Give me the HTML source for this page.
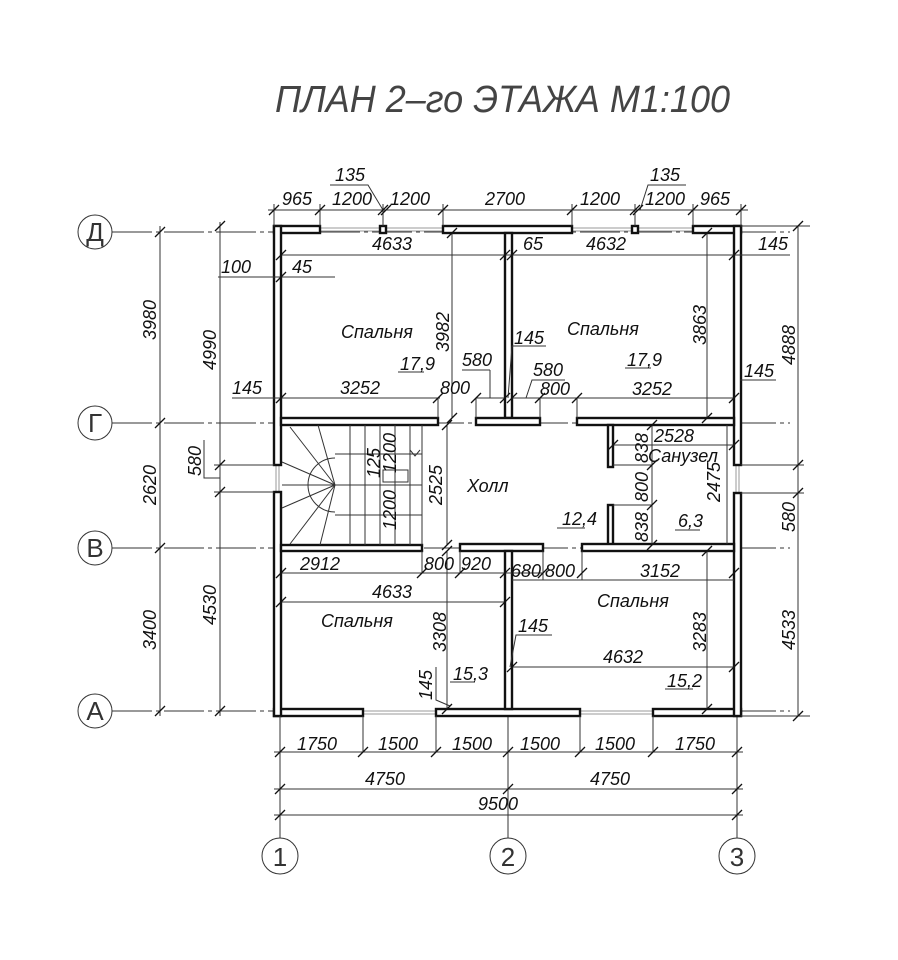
<!DOCTYPE html>
<html><head><meta charset="utf-8"><style>
html,body{margin:0;padding:0;background:#fff;}
svg{display:block;}
text{font-family:"Liberation Sans",sans-serif;font-style:italic;fill:#111;}
.t{font-size:18px;}
.w{fill:#fff;stroke:#111;stroke-width:2.4;}
.th{stroke:#333;stroke-width:1;fill:none;}
.tk{stroke:#111;stroke-width:1.3;}
.win{stroke:#999;stroke-width:1;}
</style></head><body>
<svg width="898" height="960" viewBox="0 0 898 960" xmlns="http://www.w3.org/2000/svg">
<text x="275" y="112" style="font-size:38px;fill:#444;" textLength="455" lengthAdjust="spacingAndGlyphs">ПЛАН 2–го ЭТАЖА М1:100</text>

<g class="th" stroke-dasharray="40 4 4 4">
<line x1="112" y1="232" x2="790" y2="232"/>
<line x1="112" y1="423" x2="790" y2="423"/>
<line x1="112" y1="548" x2="790" y2="548"/>
<line x1="112" y1="711" x2="790" y2="711"/>
</g>
<g class="th">
<line x1="280" y1="716" x2="280" y2="838"/>
<line x1="508" y1="716" x2="508" y2="838"/>
<line x1="737" y1="716" x2="737" y2="838"/>
<circle cx="95" cy="232" r="17"/><circle cx="95" cy="423" r="17"/><circle cx="95" cy="548" r="17"/><circle cx="95" cy="711" r="17"/>
<circle cx="280" cy="856" r="18"/><circle cx="508" cy="856" r="18"/><circle cx="737" cy="856" r="18"/>
</g>
<g style="font-size:26px;" text-anchor="middle">
<text x="95" y="241" style="font-style:normal;fill:#333">Д</text><text x="95" y="432" style="font-style:normal;fill:#333">Г</text>
<text x="95" y="557" style="font-style:normal;fill:#333">В</text><text x="95" y="720" style="font-style:normal;fill:#333">А</text>
<text x="280" y="866" style="font-style:normal;fill:#333">1</text><text x="508" y="866" style="font-style:normal;fill:#333">2</text><text x="737" y="866" style="font-style:normal;fill:#333">3</text>
</g>

<g class="win">
<line x1="320" y1="228" x2="443" y2="228"/><line x1="320" y1="231" x2="443" y2="231"/>
<line x1="572" y1="228" x2="693" y2="228"/><line x1="572" y1="231" x2="693" y2="231"/>
<line x1="363" y1="711" x2="436" y2="711"/><line x1="363" y1="714" x2="436" y2="714"/>
<line x1="580" y1="711" x2="653" y2="711"/><line x1="580" y1="714" x2="653" y2="714"/>
<line x1="276" y1="465" x2="276" y2="492"/><line x1="279" y1="465" x2="279" y2="492"/>
<line x1="736" y1="465" x2="736" y2="493"/><line x1="739" y1="465" x2="739" y2="493"/>
</g>

<g class="w">
<rect x="274" y="226" width="46" height="7"/>
<rect x="380" y="226" width="6" height="7"/>
<rect x="443" y="226" width="129" height="7"/>
<rect x="632" y="226" width="6" height="7"/>
<rect x="693" y="226" width="48" height="7"/>
<rect x="274" y="709" width="89" height="7"/>
<rect x="436" y="709" width="144" height="7"/>
<rect x="653" y="709" width="88" height="7"/>
<rect x="274" y="226" width="7" height="239"/>
<rect x="274" y="492" width="7" height="224"/>
<rect x="734" y="226" width="7" height="239"/>
<rect x="734" y="493" width="7" height="223"/>
<rect x="505" y="233" width="7" height="185"/>
<rect x="281" y="418" width="157" height="7"/>
<rect x="476" y="418" width="64" height="7"/>
<rect x="577" y="418" width="157" height="7"/>
<rect x="608" y="425" width="5" height="42"/>
<rect x="608" y="505" width="5" height="40"/>
<rect x="582" y="544" width="152" height="7"/>
<rect x="281" y="545" width="141" height="6"/>
<rect x="460" y="544" width="83" height="7"/>
<rect x="505" y="551" width="7" height="158"/>
</g>
<g fill="#fff">
<rect x="276" y="228" width="3" height="3"/><rect x="736" y="228" width="3" height="3"/>
<rect x="276" y="711" width="3" height="3"/><rect x="736" y="711" width="3" height="3"/>
</g>

<g class="th">
<path d="M335 458 A27 27 0 0 0 335 512"/>
<line x1="282" y1="485" x2="422" y2="485"/>
<line x1="335" y1="454" x2="422" y2="454"/>
<line x1="335" y1="515" x2="422" y2="515"/>
<line x1="335" y1="485" x2="290" y2="427"/><line x1="335" y1="485" x2="282" y2="462"/>
<line x1="335" y1="485" x2="318" y2="425"/><line x1="335" y1="485" x2="282" y2="508"/>
<line x1="335" y1="485" x2="290" y2="544"/><line x1="335" y1="485" x2="320" y2="545"/>
<line x1="350" y1="425" x2="350" y2="545"/><line x1="365" y1="425" x2="365" y2="545"/>
<line x1="380" y1="425" x2="380" y2="545"/><line x1="395" y1="425" x2="395" y2="545"/>
<line x1="410" y1="425" x2="410" y2="545"/><line x1="422" y1="425" x2="422" y2="545"/>
<path d="M410 450 l5 6 l5 -6"/>
<rect x="383" y="470" width="25" height="12"/>
<line x1="727" y1="425" x2="727" y2="544"/>
<line x1="613" y1="465" x2="652" y2="465"/><line x1="613" y1="505" x2="652" y2="505"/>
<line x1="652" y1="425" x2="652" y2="544"/>
<line x1="613" y1="445" x2="734" y2="445"/>
</g>

<g class="th">
<line x1="268" y1="210" x2="748" y2="210"/>
<line x1="274" y1="204" x2="274" y2="226"/><line x1="320" y1="204" x2="320" y2="226"/>
<line x1="383" y1="204" x2="383" y2="226"/><line x1="443" y1="204" x2="443" y2="226"/>
<line x1="572" y1="204" x2="572" y2="226"/><line x1="635" y1="204" x2="635" y2="226"/>
<line x1="693" y1="204" x2="693" y2="226"/><line x1="741" y1="204" x2="741" y2="226"/>
<path d="M330 185 H368 L383 210"/><path d="M640 210 L648 185 H686"/>
<line x1="160" y1="226" x2="160" y2="716"/>
<line x1="220" y1="222" x2="220" y2="716"/>
<line x1="214" y1="465" x2="274" y2="465"/><line x1="214" y1="492" x2="274" y2="492"/>
<path d="M220 478 L204 478 L204 440"/>
<line x1="218" y1="277" x2="335" y2="277"/>
<line x1="232" y1="398" x2="440" y2="398"/>
<line x1="798" y1="226" x2="798" y2="716"/>
<line x1="741" y1="465" x2="804" y2="465"/><line x1="741" y1="493" x2="804" y2="493"/>
<line x1="741" y1="226" x2="810" y2="226"/><line x1="741" y1="716" x2="810" y2="716"/>
<line x1="281" y1="255" x2="505" y2="255"/>
<line x1="452" y1="233" x2="452" y2="418"/>
<line x1="476" y1="398" x2="505" y2="398"/><line x1="490" y1="398" x2="490" y2="370"/><line x1="462" y1="370" x2="490" y2="370"/>
<line x1="438" y1="398" x2="438" y2="418"/><line x1="476" y1="398" x2="476" y2="418"/>
<line x1="505" y1="255" x2="790" y2="255"/>
<line x1="707" y1="233" x2="707" y2="418"/>
<line x1="512" y1="398" x2="734" y2="398"/>
<line x1="540" y1="398" x2="540" y2="418"/><line x1="577" y1="398" x2="577" y2="418"/>
<path d="M508 398 L512 346 H546"/><path d="M526 398 L532 380 H565"/>
<path d="M740 380 H776"/>
<line x1="447" y1="425" x2="447" y2="545"/>
<line x1="281" y1="573" x2="543" y2="573"/>
<line x1="422" y1="551" x2="422" y2="573"/><line x1="460" y1="551" x2="460" y2="573"/>
<line x1="281" y1="602" x2="505" y2="602"/>
<line x1="447" y1="551" x2="447" y2="709"/>
<path d="M436 667 L436 700 L450 706"/>
<line x1="512" y1="580" x2="734" y2="580"/>
<line x1="543" y1="551" x2="543" y2="580"/><line x1="582" y1="551" x2="582" y2="580"/>
<line x1="512" y1="667" x2="734" y2="667"/>
<line x1="707" y1="551" x2="707" y2="709"/>
<path d="M510 667 L516 635 H552"/>
<line x1="280" y1="716" x2="280" y2="820"/>
<line x1="363" y1="716" x2="363" y2="752"/><line x1="436" y1="716" x2="436" y2="752"/>
<line x1="580" y1="716" x2="580" y2="752"/><line x1="653" y1="716" x2="653" y2="752"/>
<line x1="274" y1="752" x2="743" y2="752"/>
<line x1="274" y1="789" x2="743" y2="789"/>
<line x1="274" y1="815" x2="743" y2="815"/>
</g>
<g class="th">
<line x1="398" y1="372" x2="424" y2="372"/><line x1="625" y1="368" x2="651" y2="368"/>
<line x1="557" y1="528" x2="585" y2="528"/><line x1="675" y1="530" x2="700" y2="530"/>
<line x1="450" y1="682" x2="475" y2="682"/><line x1="665" y1="689" x2="693" y2="689"/>
</g>

<g class="tk">
<path d="M269 215l10-10M315 215l10-10M378 215l10-10M381 215l10-10M438 215l10-10M567 215l10-10M630 215l10-10M633 215l10-10M688 215l10-10M736 215l10-10"/>
<path d="M155 237l10-10M155 428l10-10M155 553l10-10M155 716l10-10"/>
<path d="M215 231l10-10M215 470l10-10M215 497l10-10M215 716l10-10"/>
<path d="M793 231l10-10M793 470l10-10M793 498l10-10M793 721l10-10"/>
<path d="M275 757l10-10M358 757l10-10M431 757l10-10M503 757l10-10M575 757l10-10M648 757l10-10M732 757l10-10"/>
<path d="M275 794l10-10M503 794l10-10M732 794l10-10M275 820l10-10M732 820l10-10"/>
<path d="M276 260l10-10M500 260l10-10M507 260l10-10M729 260l10-10M276 282l10-10M276 403l10-10M433 403l10-10M471 403l10-10M500 403l10-10M507 403l10-10M535 403l10-10M572 403l10-10M729 403l10-10"/>
<path d="M447 238l10-10M447 423l10-10M702 238l10-10M702 423l10-10M442 430l10-10M442 550l10-10"/>
<path d="M276 578l10-10M417 578l10-10M455 578l10-10M500 578l10-10M538 578l10-10M577 578l10-10M729 578l10-10M276 607l10-10M500 607l10-10M507 672l10-10M729 672l10-10"/>
<path d="M442 556l10-10M442 714l10-10M702 556l10-10M702 714l10-10M608 450l10-10M729 450l10-10M647 430l10-10M647 470l10-10M647 510l10-10M647 550l10-10"/>
</g>

<g class="t">
<text x="282" y="205">965</text><text x="332" y="205">1200</text><text x="390" y="205">1200</text>
<text x="485" y="205">2700</text><text x="580" y="205">1200</text><text x="645" y="205">1200</text><text x="700" y="205">965</text>
<text x="335" y="181">135</text><text x="650" y="181">135</text>
<text x="372" y="250">4633</text><text x="221" y="273">100</text><text x="292" y="273">45</text>
<text x="341" y="338">Спальня</text><text x="400" y="370">17,9</text>
<text x="232" y="394">145</text><text x="340" y="394">3252</text><text x="440" y="394">800</text><text x="462" y="366">580</text>
<text x="523" y="250">65</text><text x="586" y="250">4632</text><text x="758" y="250">145</text>
<text x="567" y="335">Спальня</text><text x="627" y="366">17,9</text>
<text x="514" y="344">145</text><text x="533" y="376">580</text><text x="540" y="395">800</text><text x="632" y="395">3252</text><text x="744" y="377">145</text>
<text x="467" y="492">Холл</text><text x="562" y="525">12,4</text>
<text x="654" y="442">2528</text><text x="648" y="462">Санузел</text><text x="678" y="527">6,3</text>
<text x="300" y="570">2912</text><text x="424" y="570">800</text><text x="461" y="570">920</text>
<text x="372" y="598">4633</text><text x="321" y="627">Спальня</text><text x="453" y="680">15,3</text>
<text x="511" y="577">680</text><text x="545" y="577">800</text><text x="640" y="577">3152</text>
<text x="597" y="607">Спальня</text><text x="518" y="632">145</text><text x="603" y="663">4632</text><text x="667" y="687">15,2</text>
<text x="297" y="750">1750</text><text x="378" y="750">1500</text><text x="452" y="750">1500</text>
<text x="520" y="750">1500</text><text x="595" y="750">1500</text><text x="675" y="750">1750</text>
<text x="365" y="785">4750</text><text x="590" y="785">4750</text><text x="478" y="810">9500</text>
</g>
<g class="t">
<text transform="translate(156,340) rotate(-90)">3980</text>
<text transform="translate(156,505) rotate(-90)">2620</text>
<text transform="translate(156,650) rotate(-90)">3400</text>
<text transform="translate(216,370) rotate(-90)">4990</text>
<text transform="translate(201,476) rotate(-90)">580</text>
<text transform="translate(216,625) rotate(-90)">4530</text>
<text transform="translate(795,365) rotate(-90)">4888</text>
<text transform="translate(795,532) rotate(-90)">580</text>
<text transform="translate(795,650) rotate(-90)">4533</text>
<text transform="translate(449,352) rotate(-90)">3982</text>
<text transform="translate(706,345) rotate(-90)">3863</text>
<text transform="translate(442,505) rotate(-90)">2525</text>
<text transform="translate(380,478) rotate(-90)">125</text>
<text transform="translate(396,473) rotate(-90)">1200</text>
<text transform="translate(396,530) rotate(-90)">1200</text>
<text transform="translate(648,463) rotate(-90)">838</text>
<text transform="translate(648,502) rotate(-90)">800</text>
<text transform="translate(648,542) rotate(-90)">838</text>
<text transform="translate(720,502) rotate(-90)">2475</text>
<text transform="translate(446,652) rotate(-90)">3308</text>
<text transform="translate(432,700) rotate(-90)">145</text>
<text transform="translate(706,652) rotate(-90)">3283</text>
</g>
</svg>
</body></html>
